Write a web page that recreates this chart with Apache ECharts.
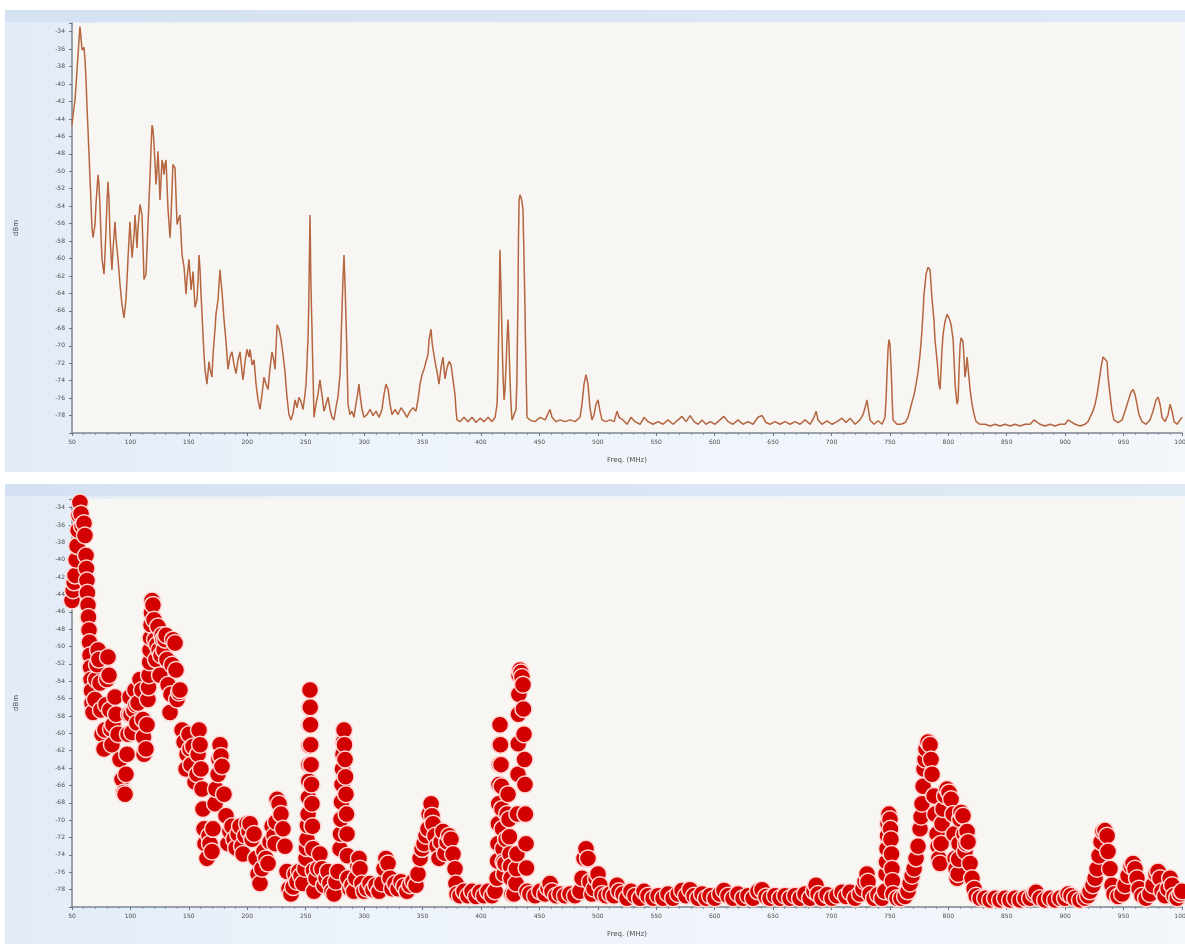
<!DOCTYPE html>
<html>
<head>
<meta charset="utf-8">
<script src="https://cdn.jsdelivr.net/npm/echarts@6/dist/echarts.min.js"></script>
<style>
  html, body { margin: 0; padding: 0; background: #ffffff; width: 1185px; height: 944px; overflow: hidden; }
  .panel { position: absolute; left: 5px; width: 1180px;
    background: linear-gradient(to right, #e2ebf7 0%, #edf3fa 30%, #f3f7fc 100%); }
  .panel .band { position: absolute; left: 0; top: 0; right: 0; height: 12px;
    background: linear-gradient(to right, #d4e1f2, #e0eaf6); }
  #p1 { top: 10px; height: 462px; }
  #p2 { top: 484px; height: 460px; }
  #chart { position: absolute; left: 0; top: 0; width: 1185px; height: 944px; }
</style>
</head>
<body>
<div class="panel" id="p1"><div class="band"></div></div>
<div class="panel" id="p2"><div class="band"></div></div>
<div id="chart"></div>
<script>
// Frequency (MHz) / level (dBm) pairs, split by band
const band50to160 = [
  [50.0,-44.7],[50.9,-43.5],[51.8,-42.6],[52.6,-41.8],[53.5,-40.0],[54.3,-38.4],[55.2,-36.6],[56.0,-34.9],[56.8,-33.4],
  [57.7,-34.7],[58.6,-36.1],[60.3,-35.8],[61.1,-37.2],[62.0,-39.5],[62.4,-41.0],[62.8,-42.4],[63.2,-43.8],[63.7,-45.2],
  [64.1,-46.6],[64.6,-48.1],[65.0,-49.5],[65.4,-51.0],[65.9,-52.4],[66.3,-53.8],[66.7,-55.1],[67.1,-56.5],[68.0,-57.6],
  [69.7,-56.1],[70.5,-53.8],[71.4,-52.1],[72.3,-50.4],[73.1,-51.5],[74.0,-54.2],[74.8,-57.3],[75.7,-60.1],[77.4,-61.8],
  [78.2,-59.6],[79.1,-56.7],[79.9,-53.8],[80.8,-51.2],[81.7,-53.3],[82.5,-57.3],[83.4,-59.5],[84.2,-61.3],[85.1,-59.0],
  [86.8,-55.8],[87.7,-57.8],[89.4,-60.1],[91.1,-63.0],[92.8,-65.3],[94.5,-66.8],[95.4,-67.0],[96.2,-64.7],[97.1,-62.4],
  [97.9,-60.1],[98.8,-57.8],[99.6,-55.8],[100.5,-57.8],[101.4,-59.9],[103.1,-57.3],[103.9,-55.0],[104.8,-56.7],
  [105.6,-58.8],[106.5,-56.5],[108.2,-53.8],[109.9,-55.0],[110.7,-58.4],[111.2,-60.4],[111.6,-62.4],[113.3,-61.8],
  [114.2,-59.0],[115.0,-56.1],[115.5,-54.7],[115.9,-53.3],[116.4,-51.8],[116.8,-50.4],[117.2,-49.0],[117.6,-47.5],
  [118.0,-46.1],[118.5,-44.7],[119.3,-45.2],[120.2,-46.9],[121.1,-49.2],[121.9,-51.5],[122.8,-49.8],[123.6,-47.7],
  [124.5,-50.4],[125.3,-53.3],[126.2,-51.0],[127.0,-48.7],[127.9,-49.2],[128.7,-50.4],[129.6,-49.2],[130.5,-48.7],
  [131.3,-51.5],[132.2,-54.4],[133.9,-57.6],[134.7,-55.5],[135.6,-52.1],[136.4,-49.2],[138.2,-49.6],[139.0,-52.7],
  [139.9,-56.1],[141.6,-55.3],[142.4,-55.0],[144.2,-59.6],[145.9,-61.0],[147.6,-64.1],[148.4,-62.4],[150.1,-60.1],
  [151.0,-61.8],[151.9,-63.6],[153.6,-61.5],[155.3,-65.6],[157.0,-64.7],[157.9,-62.4],[158.7,-59.6],[159.6,-61.3]
];
const band160to300 = [
  [160.4,-64.1],[161.3,-66.4],[162.1,-68.7],[163.0,-71.0],[163.8,-72.7],[165.5,-74.4],[167.3,-71.8],[168.1,-72.7],
  [169.8,-73.6],[170.7,-71.0],[172.4,-68.1],[173.2,-66.4],[175.0,-64.7],[175.8,-63.0],[176.7,-61.3],[177.5,-62.6],
  [178.4,-63.8],[180.1,-67.0],[181.8,-69.5],[183.5,-72.7],[185.2,-71.3],[186.9,-70.7],[188.7,-72.2],[190.4,-73.2],
  [192.1,-71.6],[193.8,-70.7],[195.5,-73.0],[196.4,-73.9],[198.1,-71.8],[199.8,-70.4],[201.5,-71.3],[202.4,-70.4],
  [204.1,-72.2],[205.8,-71.6],[207.5,-74.4],[209.2,-76.2],[210.9,-77.3],[212.6,-75.6],[214.3,-73.6],[216.0,-74.4],
  [217.8,-75.0],[219.5,-72.5],[221.2,-70.7],[222.9,-71.8],[223.8,-72.7],[224.6,-70.2],[225.5,-67.6],[227.2,-68.1],
  [228.9,-69.3],[230.6,-71.0],[232.3,-73.0],[234.0,-75.9],[235.7,-77.9],[237.4,-78.5],[239.2,-77.7],[240.9,-76.2],
  [242.6,-77.1],[244.3,-75.9],[246.0,-76.4],[247.7,-77.3],[249.4,-75.6],[250.3,-74.4],[250.7,-73.2],[251.1,-72.2],
  [251.5,-70.6],[252.0,-69.3],[252.3,-67.4],[252.6,-65.5],[252.8,-63.6],[253.0,-61.4],[253.3,-59.0],[253.5,-57.0],
  [253.7,-55.0],[253.9,-57.0],[254.1,-59.0],[254.3,-61.3],[254.6,-63.6],[255.0,-65.9],[255.4,-68.1],[255.8,-70.7],
  [256.3,-73.3],[256.7,-75.8],[257.1,-78.2],[258.8,-76.7],[260.5,-75.6],[262.2,-73.9],[263.9,-75.6],[265.7,-77.5],
  [267.4,-76.7],[269.1,-75.9],[270.8,-77.3],[272.5,-78.2],[274.2,-78.5],[275.9,-77.1],[277.6,-75.9],[279.4,-73.3],
  [279.8,-71.6],[280.2,-69.9],[280.6,-67.9],[281.1,-65.9],[281.5,-64.1],[281.9,-62.4],[282.4,-61.0],[282.8,-59.6],
  [283.2,-61.3],[283.7,-63.0],[284.1,-65.0],[284.5,-67.0],[285.0,-69.3],[285.4,-71.6],[285.8,-74.1],[286.2,-76.7],
  [287.9,-77.9],[289.6,-77.5],[291.3,-78.2],[293.0,-76.7],[294.7,-75.3],[295.6,-74.4],[296.5,-75.6],[298.2,-77.3],
  [299.9,-78.2]
];
const band300to450 = [
  [302.5,-77.9],[305.1,-77.3],[307.6,-78.0],[310.2,-77.5],[312.8,-78.2],[315.3,-77.3],[317.0,-75.6],[318.7,-74.4],
  [320.5,-75.0],[322.2,-76.7],[323.9,-77.9],[326.5,-77.3],[329.0,-77.9],[331.6,-77.1],[334.2,-77.6],[336.7,-78.2],
  [339.3,-77.5],[341.9,-77.1],[344.4,-77.5],[346.1,-76.2],[347.9,-74.4],[349.6,-73.3],[351.3,-72.7],[353.0,-71.8],
  [354.7,-71.0],[355.6,-69.3],[357.3,-68.1],[358.1,-69.5],[359.0,-70.4],[360.7,-71.8],[362.4,-73.0],[364.1,-74.4],
  [365.8,-72.5],[367.5,-71.3],[369.2,-73.8],[371.0,-72.5],[372.7,-71.8],[374.4,-72.2],[376.1,-73.9],[377.8,-75.6],
  [378.6,-77.3],[379.5,-78.5],[382.1,-78.7],[385.5,-78.2],[388.9,-78.7],[392.4,-78.2],[395.8,-78.8],[399.2,-78.3],
  [402.6,-78.7],[406.1,-78.2],[409.5,-78.7],[412.1,-78.2],[413.8,-76.7],[414.2,-74.7],[414.6,-72.7],[414.9,-70.4],
  [415.2,-68.1],[415.5,-65.9],[415.8,-63.6],[416.0,-61.3],[416.3,-59.0],[416.7,-61.3],[417.2,-63.6],[417.6,-66.1],
  [418.0,-68.7],[418.4,-71.0],[418.9,-73.3],[419.3,-74.8],[419.8,-76.2],[420.6,-75.0],[421.5,-72.2],[422.3,-69.3],
  [423.2,-67.0],[424.0,-69.9],[424.4,-71.9],[424.9,-73.9],[425.3,-75.3],[425.7,-76.7],[426.6,-78.5],[428.3,-78.5],
  [430.0,-77.3],[430.4,-75.6],[430.8,-73.9],[431.2,-69.3],[431.7,-64.7],[431.9,-61.2],[432.1,-57.8],[432.4,-55.5],
  [432.6,-53.3],[433.4,-52.7],[434.3,-53.0],[435.1,-53.5],[436.0,-54.4],[436.4,-57.2],[436.9,-60.1],[437.3,-63.0],
  [437.7,-65.9],[438.1,-69.3],[438.6,-72.7],[439.0,-75.5],[439.4,-78.2],[441.9,-78.5],[446.3,-78.7]
];
const band450to720 = [
  [450.6,-78.2],[454.9,-78.5],[457.4,-77.8],[459.1,-77.3],[460.8,-78.2],[464.3,-78.7],[467.7,-78.5],[471.9,-78.7],
  [476.2,-78.5],[480.5,-78.7],[484.8,-78.2],[486.5,-76.7],[488.2,-74.4],[489.9,-73.3],[491.6,-74.4],[493.3,-77.1],
  [495.0,-78.5],[496.8,-77.9],[498.5,-76.7],[500.2,-76.2],[501.9,-77.5],[503.6,-78.5],[507.0,-78.7],[510.5,-78.5],
  [513.9,-78.7],[516.5,-77.5],[518.2,-78.2],[521.6,-78.5],[525.0,-79.0],[528.4,-78.2],[531.9,-78.7],[536.2,-79.0],
  [539.6,-78.2],[543.0,-78.7],[547.3,-79.0],[551.6,-78.7],[555.8,-79.0],[560.1,-78.5],[564.4,-79.0],[568.7,-78.5],
  [572.1,-78.1],[575.5,-78.7],[579.0,-78.0],[582.4,-78.7],[585.8,-79.0],[589.2,-78.5],[592.6,-79.0],[596.1,-78.7],
  [600.3,-79.0],[604.6,-78.5],[608.0,-78.1],[611.5,-78.7],[615.7,-79.0],[620.0,-78.5],[624.3,-79.0],[628.6,-78.7],
  [632.9,-79.0],[637.1,-78.2],[640.6,-78.0],[644.0,-78.8],[647.4,-79.0],[651.7,-78.7],[656.0,-79.0],[660.3,-78.7],
  [664.5,-79.0],[668.8,-78.7],[673.1,-79.0],[677.4,-78.5],[681.7,-79.0],[685.1,-78.2],[686.8,-77.5],[688.5,-78.5],
  [691.9,-79.0],[696.2,-78.6],[700.5,-79.0],[704.8,-78.7],[709.0,-78.3],[712.5,-78.8],[715.9,-78.3]
];
const band720to1000 = [
  [720.2,-79.0],[724.4,-78.5],[727.0,-77.9],[728.7,-77.1],[730.4,-76.2],[731.3,-77.1],[733.0,-78.5],[736.4,-79.0],
  [739.8,-78.6],[743.3,-79.0],[745.8,-78.2],[746.7,-76.2],[747.1,-74.8],[747.5,-73.3],[748.0,-71.8],[748.4,-70.4],
  [749.2,-69.3],[750.1,-69.9],[750.5,-71.0],[750.9,-72.2],[751.4,-73.9],[751.8,-75.6],[752.2,-77.0],[752.7,-78.5],
  [756.1,-79.0],[759.5,-79.0],[763.0,-78.8],[765.5,-78.2],[767.3,-77.3],[769.0,-76.4],[770.7,-75.6],[772.4,-74.4],
  [774.1,-73.0],[775.8,-71.0],[776.7,-69.6],[777.5,-68.1],[778.4,-66.1],[779.2,-64.1],[780.1,-63.0],[780.9,-61.8],
  [782.6,-61.0],[784.4,-61.3],[785.2,-63.0],[786.1,-64.7],[787.8,-67.2],[788.6,-69.3],[790.3,-71.6],[791.2,-73.0],
  [792.0,-74.4],[792.9,-75.0],[793.8,-72.7],[794.6,-70.4],[795.5,-68.7],[797.2,-67.2],[798.9,-66.4],[800.6,-66.8],
  [802.4,-67.6],[804.1,-69.3],[804.9,-71.6],[805.8,-74.4],[806.6,-75.6],[807.5,-76.7],[808.4,-76.2],[808.8,-74.5],
  [809.2,-72.7],[810.1,-69.9],[810.9,-69.1],[812.6,-69.5],[813.5,-71.6],[814.3,-73.6],[815.2,-72.7],[816.1,-71.3],
  [816.9,-72.5],[818.6,-75.0],[820.3,-76.7],[822.1,-77.9],[823.8,-78.7],[827.2,-79.0],[831.5,-79.0],[835.8,-79.2],
  [840.0,-79.0],[844.3,-79.2],[848.6,-79.0],[852.9,-79.2],[857.1,-79.0],[861.4,-79.2],[865.7,-79.0],[870.0,-79.0],
  [873.4,-78.5],[875.1,-78.3],[878.5,-79.0],[882.8,-79.2],[887.1,-79.0],[891.4,-79.2],[895.6,-79.0],[899.9,-79.0],
  [902.5,-78.5],[905.0,-78.7],[908.5,-79.0],[912.7,-79.2],[917.0,-79.0],[919.6,-78.7],[921.3,-78.2],[923.8,-77.5],
  [925.6,-76.7],[927.3,-75.6],[929.0,-74.1],[930.7,-72.5],[932.4,-71.3],[934.1,-71.2],[935.9,-71.8],[936.7,-73.6],
  [938.4,-75.6],[940.1,-77.5],[941.8,-78.5],[945.3,-78.8],[948.7,-78.5],[951.2,-77.5],[953.8,-76.4],[956.4,-75.3],
  [958.1,-75.0],[959.8,-75.6],[961.5,-76.7],[963.2,-77.9],[965.8,-78.7],[969.2,-79.0],[972.6,-78.5],[975.2,-77.5],
  [977.8,-76.2],[979.5,-75.9],[981.2,-76.7],[982.9,-78.2],[985.5,-78.7],[988.1,-77.9],[989.8,-76.7],[991.5,-77.5],
  [993.2,-78.7],[995.8,-79.0],[998.4,-78.5],[1000.0,-78.2]
];
const trace = [].concat(band50to160, band160to300, band300to450, band450to720, band720to1000);

const xAxisName = 'Freq. (MHz)';
const yAxisName = 'dBm';
const yHiddenLabels = [-80, -33];

const chart = echarts.init(document.getElementById('chart'), null, { renderer: 'canvas' });

function xAxisCfg(gridIndex) {
  return {
    type: 'value', gridIndex: gridIndex, min: 50, max: 1000, interval: 50,
    name: xAxisName, nameLocation: 'middle', nameGap: 24,
    nameTextStyle: { fontSize: 7, color: '#4a4a4a', fontFamily: 'DejaVu Sans' },
    axisLine: { show: true, lineStyle: { color: '#7b8794', width: 1.5 } },
    axisTick: { show: true, length: 3, lineStyle: { color: '#6b7480' } },
    minorTick: { show: true, splitNumber: 5, length: 2, lineStyle: { color: '#8a929c' } },
    axisLabel: { fontSize: 6, color: '#4d4d4d', margin: 6, fontFamily: 'DejaVu Sans',
      formatter: function (v) { return String(v); } },
    splitLine: { show: false }
  };
}
function yAxisCfg(gridIndex) {
  return {
    type: 'value', gridIndex: gridIndex, min: -80, max: -33, interval: 2,
    name: yAxisName, nameLocation: 'middle', nameGap: 52, nameRotate: 90,
    nameTextStyle: { fontSize: 7, color: '#4a4a4a', fontFamily: 'DejaVu Sans' },
    axisLine: { show: true, lineStyle: { color: '#7b8794', width: 1.5 } },
    axisTick: { show: true, length: 3, lineStyle: { color: '#6b7480' } },
    axisLabel: { fontSize: 6, color: '#4d4d4d', margin: 7, fontFamily: 'DejaVu Sans',
      formatter: function (v) { return yHiddenLabels.indexOf(v) >= 0 ? '' : String(v); } },
    splitLine: { show: false }
  };
}

chart.setOption({
  animation: false,
  backgroundColor: 'transparent',
  grid: [
    { left: 72, top: 23, right: 3, height: 410, show: true, backgroundColor: '#f7f6f3', borderWidth: 0,
      outerBoundsMode: 'none', containLabel: false },
    { left: 72, top: 499, right: 3, height: 408, show: true, backgroundColor: '#f7f6f3', borderWidth: 0,
      outerBoundsMode: 'none', containLabel: false }
  ],
  xAxis: [xAxisCfg(0), xAxisCfg(1)],
  yAxis: [yAxisCfg(0), yAxisCfg(1)],
  series: [
    {
      type: 'line', xAxisIndex: 0, yAxisIndex: 0, data: trace,
      showSymbol: false, smooth: false,
      lineStyle: { color: '#b5653f', width: 1.5 }
    },
    {
      type: 'scatter', xAxisIndex: 1, yAxisIndex: 1, data: trace,
      symbol: 'circle', symbolSize: 17,
      itemStyle: { color: '#d20000', borderColor: '#ffd6d2', borderWidth: 1.5, opacity: 1 }
    }
  ]
});
</script>
</body>
</html>
